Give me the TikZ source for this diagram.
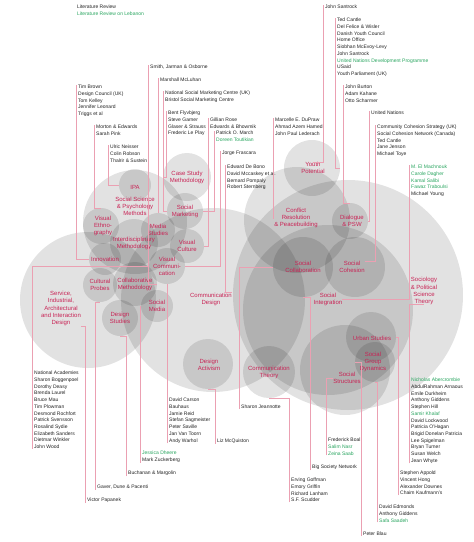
\documentclass[tikz,border=0pt]{standalone}
\usepackage{fontspec}
\setmainfont{Liberation Sans}
\usepackage{xcolor}
\definecolor{crim}{RGB}{200,35,85}
\definecolor{grn}{RGB}{40,165,95}
\definecolor{ink}{RGB}{35,35,35}
\definecolor{pinkline}{RGB}{235,160,178}

\begin{document}
\begin{tikzpicture}[x=1pt, y=-1pt,
  blob/.style={circle, fill=black, fill opacity=0.115, draw=none, inner sep=0pt},
  lbl/.style={text=crim, align=center, inner sep=0pt, font=\fontsize{6}{7.1}\selectfont},
  lst/.style={text=ink, align=left, anchor=north west, inner sep=0pt, font=\fontsize{5}{6.7}\selectfont},
  conn/.style={draw=pinkline, line width=0.35pt}]

\fill[white] (0,0) rectangle (474,542);
\useasboundingbox (0,0) rectangle (474,542);

% circles
\node[blob, minimum size=136pt] (serv) at (88,300) {};
\node[blob, minimum size=184pt] (commdes) at (213,300) {};
\node[blob, minimum size=230pt] (sociol) at (348,295) {};
\node[blob, minimum size=170pt] (socint) at (328,310) {};
\node[blob, minimum size=106pt] (conflict) at (297,220) {};
\node[blob, minimum size=104pt] (ssp) at (135,222) {};
\node[blob, minimum size=90pt] (socstruct) at (345,370) {};
\node[blob, minimum size=32pt] (ipa) at (135,185) {};
\node[blob, minimum size=36pt] (vethno) at (101,226) {};
\node[blob, minimum size=48pt] (interd) at (134,243) {};
\node[blob, minimum size=32pt] (inno) at (105,259) {};
\node[blob, minimum size=34pt] (mstud) at (158,230) {};
\node[blob, minimum size=48pt] (casest) at (187,177) {};
\node[blob, minimum size=36pt] (smark) at (185,211) {};
\node[blob, minimum size=34pt] (vcult) at (187,246) {};
\node[blob, minimum size=36pt] (vcomm) at (167,266) {};
\node[blob, minimum size=34pt] (cprobes) at (100,285) {};
\node[blob, minimum size=44pt] (collab) at (135,284) {};
\node[blob, minimum size=32pt] (socmed) at (157,306) {};
\node[blob, minimum size=36pt] (desstud) at (120,318) {};
\node[blob, minimum size=50pt] (desact) at (208,364) {};
\node[blob, minimum size=52pt] (commth) at (269,372) {};
\node[blob, minimum size=56pt] (youth) at (312,168) {};
\node[blob, minimum size=36pt] (dialog) at (350,221) {};
\node[blob, minimum size=60pt] (soccol) at (303,267) {};
\node[blob, minimum size=60pt] (socco) at (355,267) {};
\node[blob, minimum size=50pt] (urban) at (371,337) {};
\node[blob, minimum size=40pt] (sgroup) at (375,362) {};

% circle labels
\node[lbl] (ipalbl) at (135,187) {IPA};
\node[lbl] (ssplbl) at (135,206) {Social Science\\\& Psychology\\Methods};
\node[lbl] (vethlbl) at (103,226) {Visual\\Ethno-\\graphy};
\node[lbl] (interlbl) at (134,243) {Interdisciplinary\\Methodology};
\node[lbl] (innolbl) at (105,259) {Innovation};
\node[lbl] (mslbl) at (158,230) {Media\\Studies};
\node[lbl] (cslbl) at (187,177) {Case Study\\Methodology};
\node[lbl] (smlbl) at (185,211) {Social\\Marketing};
\node[lbl] (vculbl) at (187,246) {Visual\\Culture};
\node[lbl] (vcolbl) at (167,266) {Visual\\Communi-\\cation};
\node[lbl] (cplbl) at (100,285) {Cultural\\Probes};
\node[lbl] (colbl) at (135,284) {Collaborative\\Methodology};
\node[lbl] (smedlbl) at (157,306) {Social\\Media};
\node[lbl] (dslbl) at (120,318) {Design\\Studies};
\node[lbl] (svlbl) at (61,308.5) {Service,\\Industrial,\\Architectural\\and Interaction\\Design};
\node[lbl] (cdlbl) at (211,299) {Communication\\Design};
\node[lbl] (dalbl) at (209,365) {Design\\Activism};
\node[lbl] (ctlbl) at (269,372) {Communication\\Theory};
\node[lbl] (yplbl) at (313,168) {Youth\\Potential};
\node[lbl] (crlbl) at (296,218) {Conflict\\Resolution\\\& Peacebuilding};
\node[lbl] (dplbl) at (352,221) {Dialogue\\\& PSW};
\node[lbl] (sclbl) at (303,267) {Social\\Collaboration};
\node[lbl] (shlbl) at (352,267) {Social\\Cohesion};
\node[lbl] (silbl) at (328,299) {Social\\Integration};
\node[lbl] (spslbl) at (424,291) {Sociology\\\& Political\\Science\\Theory};
\node[lbl] (uslbl) at (372,338) {Urban Studies};
\node[lbl] (sgdlbl) at (373,362) {Social\\Group\\Dynamics};
\node[lbl] (sslbl) at (347,378) {Social\\Structures};

%lists above
\node[lst] (litrev) at (77,5) {Literature Review\\{\color{grn}Literature Review on Lebanon}};
\node[lst] (brown) at (78,85) {Tim Brown\\Design Council (UK)\\Tom Kelley\\Jennifer Leonard\\Triggs et al};
\node[lst] (morton) at (96,125) {Morton \& Edwards\\Sarah Pink};
\node[lst] (neisser) at (110,145) {Ulric Neisser\\Colin Robson\\Thalrir \& Sustein};
\node[lst] (smith) at (150,65) {Smith, Jarman \& Osborne};
\node[lst] (mcluhan) at (160,78) {Marshall McLuhan};
\node[lst] (nsmc) at (165,91) {National Social Marketing Centre (UK)\\Bristol Social Marketing Centre};
\node[lst] (flyv) at (168,111) {Bent Flyvbjerg\\Steve Garner\\Glaser \& Strauss\\Frederic Le Play};
\node[lst] (rose) at (210,118) {Gillian Rose\\Edwards \& Bhowmik};
\node[lst] (march) at (216,131) {Patrick O. March\\{\color{grn}Doreen Toutikian}};
\node[lst] (frascara) at (222,151) {Jorge Frascara};
\node[lst] (debono) at (227,165) {Edward De Bono\\David Mccaskey et al.\\Bernard Pompaly\\Robert Sternberg};
\node[lst] (dupraw) at (275,118) {Marcelle E. DuPraw\\Ahmad Azem Hamed\\John Paul Lederach};
\node[lst] (santrock) at (325,5) {John Santrock};
\node[lst] (cantle) at (337,18) {Ted Cantle\\Del Felice \& Wisler\\Danish Youth Council\\Home Office\\Siobhan McEvoy-Levy\\John Santrock\\{\color{grn}United Nations Development Programme}\\USaid\\Youth Parliament (UK)};
\node[lst] (burton) at (345,85) {John Burton\\Adam Kahane\\Otto Scharmer};
\node[lst] (un) at (371,111) {United Nations};
\node[lst] (ccs) at (377,125) {Community Cohesion Strategy (UK)\\Social Cohesion Network (Canada)\\Ted Cantle\\Jane Jenson\\Michael Toye};
\node[lst] (machnouk) at (411,165) {{\color{grn}M. El Machnouk}\\{\color{grn}Carole Dagher}\\{\color{grn}Kamal Salibi}\\{\color{grn}Fawaz Traboulsi}\\Michael Young};

%lists below
\node[lst] (natacad) at (34,371) {National Academies\\Sharon Boggenpoel\\Dorothy Deasy\\Brenda Laurel\\Bruce Mau\\Tim Plowman\\Desmond Rochfort\\Patrick Svensson\\Rosalind Sydie\\Elizabeth Sanders\\Dietmar Winkler\\John Wood};
\node[lst] (carson) at (169,398) {David Carson\\Bauhaus\\Jamie Reid\\Stefan Sagmeister\\Peter Saville\\Jan Van Toorn\\Andy Warhol};
\node[lst] (dheere) at (142,451) {{\color{grn}Jessica Dheere}\\Mark Zuckerberg};
\node[lst] (buchanan) at (128,471) {Buchanan \& Margolin};
\node[lst] (gaver) at (97,485) {Gaver, Dune \& Pacenti};
\node[lst] (papanek) at (87,498) {Victor Papanek};
\node[lst] (mcquiston) at (217,439) {Liz McQuiston};
\node[lst] (jeannotte) at (241,405) {Sharon Jeannotte};
\node[lst] (bigsoc) at (312,465) {Big Society Network};
\node[lst] (goffman) at (291,478) {Erving Goffman\\Emory Griffin\\Richard Lanham\\S.F. Scudder};
\node[lst] (boal) at (328,438) {Frederick Boal\\{\color{grn}Salim Nasr}\\{\color{grn}Zeina Saab}};
\node[lst] (abercrombie) at (411,378) {{\color{grn}Nicholas Abercrombie}\\AbdulRahman Arnaous\\Emile Durkheim\\Anthony Giddens\\Stephen Hill\\{\color{grn}Samir Khalaf}\\David Lockwood\\Patricia O'Hagan\\Brigid Donelan Patricia\\Lee Spigelman\\Bryan Turner\\Susan Welch\\Jean Whyte};
\node[lst] (appold) at (400,471) {Stephen Appold\\Vincent Hong\\Alexander Downes\\Chaim Kaufmann's};
\node[lst] (edmonds) at (379,505) {David Edmonds\\Anthony Giddens\\{\color{grn}Safa Saadeh}};
\node[lst] (blau) at (363,532) {Peter Blau};

%connectors from above
\draw[conn] ([xshift=-2pt]brown.north west) |- (inno.west);
\draw[conn] ([xshift=-2pt]morton.north west) |- (vethno.north);
\draw[conn] ([xshift=-2pt]neisser.north west) |- (ipa.west);
\draw[conn] ([xshift=-2pt]smith.north west) |- (collab.east);
\draw[conn] ([xshift=-2pt]mcluhan.north west) |- (mstud.north);
\draw[conn] ([xshift=-2pt]nsmc.north west) |- (smark.west);
\draw[conn] ([xshift=-2pt]flyv.north west) |- (casest.west);
\draw[conn] ([xshift=-2pt]rose.north west) |- (vcult.east);
\draw[conn] ([xshift=-2pt]march.north west) |- (smark.east);
\draw[conn] ([xshift=-2pt]frascara.north west) |- (vcomm.east);
\draw[conn] ([xshift=-2pt]debono.north west) |- (cdlbl.north east);
\draw[conn] ([xshift=-2pt]dupraw.north west) |- (crlbl.west);
\draw[conn] ([xshift=-2pt]santrock.north west) |- (yplbl.north);
\draw[conn] ([xshift=-2pt]cantle.north west) |- (youth.east);
\draw[conn] ([xshift=-2pt]burton.north west) |- (dialog.north);
\draw[conn] ([xshift=-2pt]un.north west) |- (dialog.east);
\draw[conn] ([xshift=-2pt]ccs.north west) |- (shlbl.north east);
\draw[conn] ([xshift=-2pt]machnouk.north west) |- (silbl.east);

%connectors from below
\draw[conn] ([xshift=-2pt]natacad.south west) |- (vcomm.west);
\draw[conn] ([xshift=-2pt]carson.south west) |- (vcomm.south);
\draw[conn] ([xshift=-2pt]dheere.south west) |- (socmed.west);
\draw[conn] ([xshift=-2pt]buchanan.south west) |- (desstud.south);
\draw[conn] ([xshift=-2pt]gaver.south west) |- (cprobes.south);
\draw[conn] ([xshift=-2pt]papanek.south west) |- (svlbl.south east);
\draw[conn] ([xshift=-2pt]mcquiston.south west) |- (desact.south);
\draw[conn] ([xshift=-2pt]jeannotte.south west) |- (soccol.west);
\draw[conn] ([xshift=-2pt]goffman.south west) |- (commth.south);
\draw[conn] ([xshift=-2pt]bigsoc.south west) |- (soccol.south);
\draw[conn] ([xshift=-2pt]boal.south west) |- (sslbl.west);
\draw[conn] ([xshift=-2pt]blau.south west) |- (sgroup.west);
\draw[conn] ([xshift=-2pt]edmonds.south west) |- (sgroup.south);
\draw[conn] ([xshift=-2pt]appold.south west) |- (urban.east);
\draw[conn] ([xshift=-2pt]abercrombie.south west) |- (spslbl.south);
\end{tikzpicture}
\end{document}
